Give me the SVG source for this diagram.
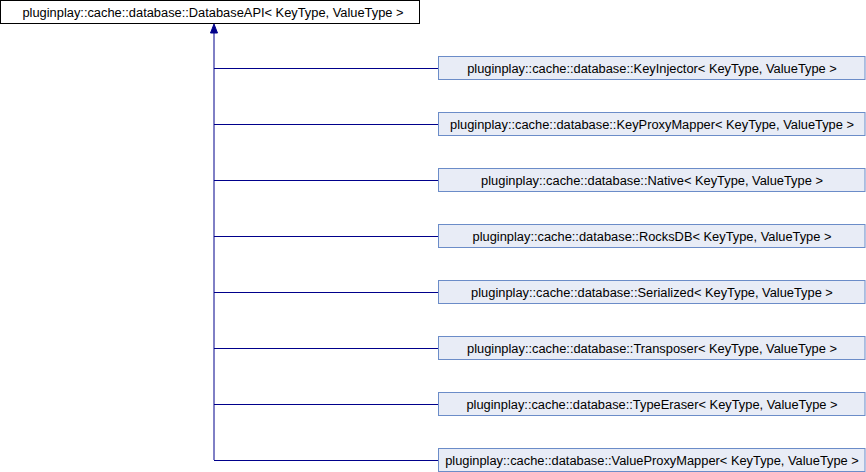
<svg xmlns="http://www.w3.org/2000/svg" width="866" height="472" viewBox="0 0 866 472">
<style>
.bg{fill:#ffffff}
.top rect{fill:#ffffff;stroke:#000000;stroke-width:1}
.child rect{fill:#e8ecf6;stroke:#6b8cc8;stroke-width:1}
text{font-family:"Liberation Sans",Arial,sans-serif;font-size:12.85px;fill:#000000;text-anchor:middle}
.edge{stroke:#00008b;stroke-width:1;fill:none}
.head{fill:#00008b;stroke:#00008b;stroke-width:1}
</style>
<rect class="bg" x="0" y="0" width="866" height="472"/>
<g id="connectors">
<path class="edge" d="M214,460 L214,32"/>
<path class="head" d="M214,24 L210.5,33 L217.5,33 Z"/>
<path class="edge" d="M214,68.5 H438.5"/>
<path class="edge" d="M214,124.5 H438.5"/>
<path class="edge" d="M214,180.5 H438.5"/>
<path class="edge" d="M214,236.5 H438.5"/>
<path class="edge" d="M214,292.5 H438.5"/>
<path class="edge" d="M214,348.5 H438.5"/>
<path class="edge" d="M214,404.5 H438.5"/>
<path class="edge" d="M214,460.5 H438.5"/>
</g>
<g id="node_DatabaseAPI" class="top">
<rect x="0.5" y="0.5" width="419" height="23"/>
<text x="213" y="17">pluginplay::cache::database::DatabaseAPI&lt; KeyType, ValueType &gt;</text>
</g>
<g id="node_KeyInjector" class="child">
<rect x="438.5" y="56.5" width="426.5" height="23"/>
<text x="652" y="73">pluginplay::cache::database::KeyInjector&lt; KeyType, ValueType &gt;</text>
</g>
<g id="node_KeyProxyMapper" class="child">
<rect x="438.5" y="112.5" width="426.5" height="23"/>
<text x="652" y="129">pluginplay::cache::database::KeyProxyMapper&lt; KeyType, ValueType &gt;</text>
</g>
<g id="node_Native" class="child">
<rect x="438.5" y="168.5" width="426.5" height="23"/>
<text x="652" y="185">pluginplay::cache::database::Native&lt; KeyType, ValueType &gt;</text>
</g>
<g id="node_RocksDB" class="child">
<rect x="438.5" y="224.5" width="426.5" height="23"/>
<text x="652" y="241">pluginplay::cache::database::RocksDB&lt; KeyType, ValueType &gt;</text>
</g>
<g id="node_Serialized" class="child">
<rect x="438.5" y="280.5" width="426.5" height="23"/>
<text x="652" y="297">pluginplay::cache::database::Serialized&lt; KeyType, ValueType &gt;</text>
</g>
<g id="node_Transposer" class="child">
<rect x="438.5" y="336.5" width="426.5" height="23"/>
<text x="652" y="353">pluginplay::cache::database::Transposer&lt; KeyType, ValueType &gt;</text>
</g>
<g id="node_TypeEraser" class="child">
<rect x="438.5" y="392.5" width="426.5" height="23"/>
<text x="652" y="409">pluginplay::cache::database::TypeEraser&lt; KeyType, ValueType &gt;</text>
</g>
<g id="node_ValueProxyMapper" class="child">
<rect x="438.5" y="448.5" width="426.5" height="23"/>
<text x="652" y="465">pluginplay::cache::database::ValueProxyMapper&lt; KeyType, ValueType &gt;</text>
</g>
</svg>
